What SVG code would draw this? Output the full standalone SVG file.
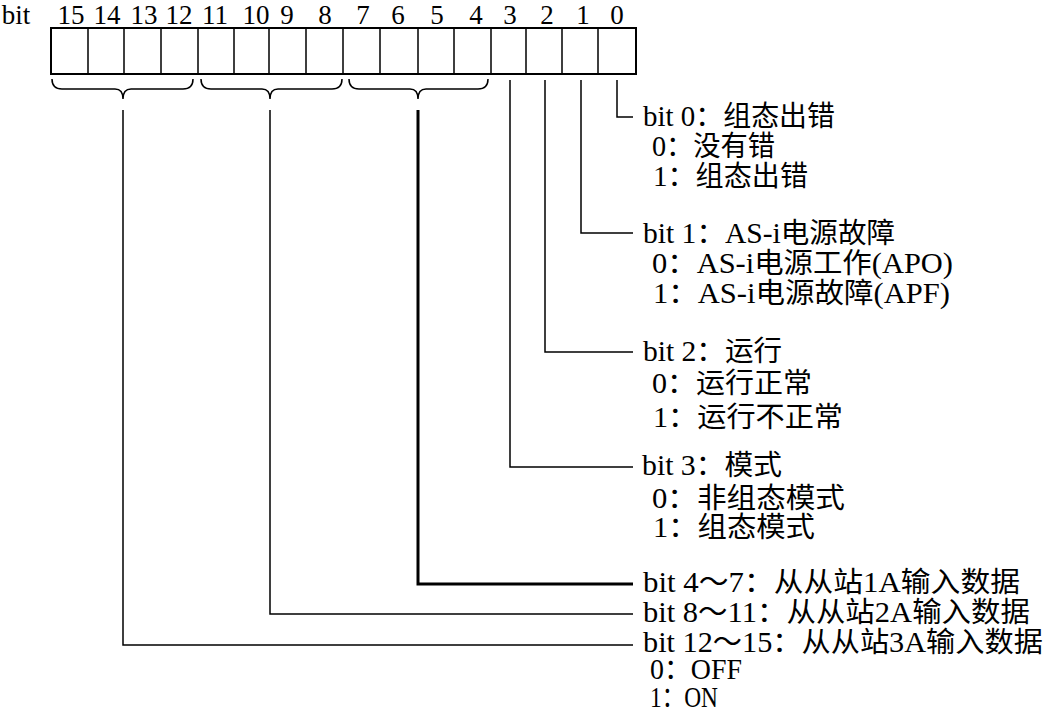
<svg xmlns="http://www.w3.org/2000/svg" width="1044" height="713" viewBox="0 0 1044 713">
<style>
.num{font-family:"Liberation Serif","Times New Roman",serif;font-size:27px;fill:#000;text-anchor:middle}
.lbl{font-family:"Liberation Serif","Noto Sans CJK SC",serif;font-size:28px;fill:#000}
.lat{font-size:29px}
.ln{fill:none;stroke:#000;stroke-width:1.5}
.thick{fill:none;stroke:#000;stroke-width:3}
.box{fill:#fff;stroke:#000;stroke-width:2}
</style>
<rect width="1044" height="713" fill="#fff"/>
<g id="register">
<text class="num" x="16" y="24">bit</text>
<g id="bit-numbers">
<text class="num" x="71" y="24">15</text>
<text class="num" x="107" y="24">14</text>
<text class="num" x="144" y="24">13</text>
<text class="num" x="179" y="24">12</text>
<text class="num" x="215" y="24">11</text>
<text class="num" x="256" y="24">10</text>
<text class="num" x="287" y="24">9</text>
<text class="num" x="325" y="24">8</text>
<text class="num" x="363" y="24">7</text>
<text class="num" x="398" y="24">6</text>
<text class="num" x="437" y="24">5</text>
<text class="num" x="476" y="24">4</text>
<text class="num" x="510" y="24">3</text>
<text class="num" x="547" y="24">2</text>
<text class="num" x="583" y="24">1</text>
<text class="num" x="617" y="24">0</text>
</g>
<rect class="box" x="51" y="28" width="585" height="46"/>
<path class="ln" stroke-width="2" d="M88 28V74M124 28V74M161 28V74M198 28V74M234 28V74M269 28V74M306 28V74M343 28V74M380 28V74M418 28V74M454 28V74M491 28V74M526 28V74M562 28V74M598 28V74"/>
</g>
<g id="braces">
<path class="ln" d="M52 79Q52 89 62 89L115 89Q123 89 123 99Q123 89 131 89L183 89Q193 89 193 79"/>
<path class="ln" d="M201 79Q201 89 211 89L262 89Q270 89 270 99Q270 89 278 89L332 89Q342 89 342 79"/>
<path class="ln" d="M349 79Q349 89 359 89L410 89Q418 89 418 99Q418 89 426 89L478 89Q488 89 488 79"/>
</g>
<g id="connectors">
<path class="ln" d="M617 80V117H633"/>
<path class="ln" d="M581 80V233H633"/>
<path class="ln" d="M545 80V352H633"/>
<path class="ln" d="M510 80V467H633"/>
<path class="thick" d="M418 110V584H633"/>
<path class="ln" d="M270 110V614H633"/>
<path class="ln" d="M123 110V645H633"/>
</g>
<g id="bit0">
<text class="lbl" x="643" y="126" textLength="192" lengthAdjust="spacingAndGlyphs"><tspan class="lat">bit 0</tspan>：组态出错</text>
<text class="lbl" x="652" y="156" textLength="123" lengthAdjust="spacingAndGlyphs"><tspan class="lat">0</tspan>：没有错</text>
<text class="lbl" x="653" y="186" textLength="155" lengthAdjust="spacingAndGlyphs"><tspan class="lat">1</tspan>：组态出错</text>
</g>
<g id="bit1">
<text class="lbl" x="643" y="243" textLength="252" lengthAdjust="spacingAndGlyphs"><tspan class="lat">bit 1</tspan>：<tspan class="lat">AS-i</tspan>电源故障</text>
<text class="lbl" x="652" y="273" textLength="301" lengthAdjust="spacingAndGlyphs"><tspan class="lat">0</tspan>：<tspan class="lat">AS-i</tspan>电源工作<tspan class="lat">(APO)</tspan></text>
<text class="lbl" x="653" y="303" textLength="297" lengthAdjust="spacingAndGlyphs"><tspan class="lat">1</tspan>：<tspan class="lat">AS-i</tspan>电源故障<tspan class="lat">(APF)</tspan></text>
</g>
<g id="bit2">
<text class="lbl" x="643" y="361" textLength="139" lengthAdjust="spacingAndGlyphs"><tspan class="lat">bit 2</tspan>：运行</text>
<text class="lbl" x="652" y="393" textLength="160" lengthAdjust="spacingAndGlyphs"><tspan class="lat">0</tspan>：运行正常</text>
<text class="lbl" x="653" y="427" textLength="190" lengthAdjust="spacingAndGlyphs"><tspan class="lat">1</tspan>：运行不正常</text>
</g>
<g id="bit3">
<text class="lbl" x="642" y="475" textLength="140" lengthAdjust="spacingAndGlyphs"><tspan class="lat">bit 3</tspan>：模式</text>
<text class="lbl" x="652" y="508" textLength="193" lengthAdjust="spacingAndGlyphs"><tspan class="lat">0</tspan>：非组态模式</text>
<text class="lbl" x="653" y="537" textLength="162" lengthAdjust="spacingAndGlyphs"><tspan class="lat">1</tspan>：组态模式</text>
</g>
<g id="bit4-7">
<text class="lbl" x="643" y="592" textLength="377" lengthAdjust="spacingAndGlyphs"><tspan class="lat">bit 4</tspan>～<tspan class="lat">7</tspan>：从从站<tspan class="lat">1A</tspan>输入数据</text>
</g>
<g id="bit8-11">
<text class="lbl" x="643" y="622" textLength="387" lengthAdjust="spacingAndGlyphs"><tspan class="lat">bit 8</tspan>～<tspan class="lat">11</tspan>：从从站<tspan class="lat">2A</tspan>输入数据</text>
</g>
<g id="bit12-15">
<text class="lbl" x="643" y="652" textLength="400" lengthAdjust="spacingAndGlyphs"><tspan class="lat">bit 12</tspan>～<tspan class="lat">15</tspan>：从从站<tspan class="lat">3A</tspan>输入数据</text>
<text class="lbl" x="650" y="679" textLength="92" lengthAdjust="spacingAndGlyphs"><tspan class="lat">0</tspan>：<tspan class="lat">OFF</tspan></text>
<text class="lbl" x="650" y="707" textLength="68" lengthAdjust="spacingAndGlyphs"><tspan class="lat">1</tspan>：<tspan class="lat">ON</tspan></text>
</g>
</svg>
